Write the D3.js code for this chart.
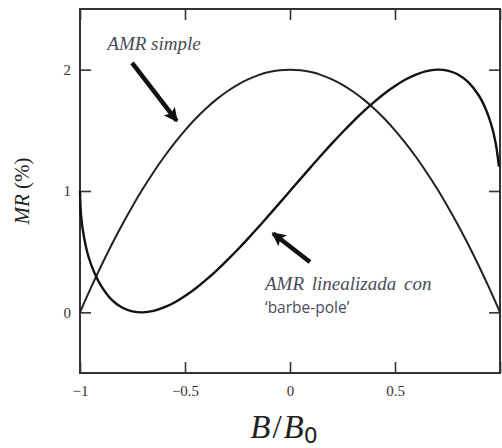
<!DOCTYPE html>
<html>
<head>
<meta charset="utf-8">
<style>
  body { margin: 0; background: #fff; }
  .tick text { font-family: "Liberation Serif", serif; font-size: 15px; fill: #333; }
  .note { font-family: "Liberation Serif", serif; font-style: italic; fill: #474c58; }
</style>
</head>
<body>
<svg width="502" height="448"></svg>
<script src="https://d3js.org/d3.v7.min.js"></script>
<script>
// B/B0 sample points and MR (%)
const simpleX = [-1, -0.95, -0.9, -0.85, -0.8, -0.75, -0.7, -0.65, -0.6, -0.55, -0.5, -0.45, -0.4, -0.35, -0.3, -0.25, -0.2, -0.15, -0.1, -0.05,
                 0, 0.05, 0.1, 0.15, 0.2, 0.25, 0.3, 0.35, 0.4, 0.45, 0.5, 0.55, 0.6, 0.65, 0.7, 0.75, 0.8, 0.85, 0.9, 0.95, 1];
const simpleMR = [0, 0.195, 0.38, 0.555, 0.72, 0.875, 1.02, 1.155, 1.28, 1.395, 1.5, 1.595, 1.68, 1.755, 1.82, 1.875, 1.92, 1.955, 1.98, 1.995,
                  2.0, 1.995, 1.98, 1.955, 1.92, 1.875, 1.82, 1.755, 1.68, 1.595, 1.5, 1.395, 1.28, 1.155, 1.02, 0.875, 0.72, 0.555, 0.38, 0.195, 0];

const barberX = [-1, -0.995, -0.98, -0.96, -0.93, -0.9, -0.85, -0.8, -0.75, -0.7, -0.65, -0.6, -0.55, -0.5, -0.45, -0.4, -0.35, -0.3, -0.25, -0.2, -0.15, -0.1, -0.05,
                 0, 0.05, 0.1, 0.15, 0.2, 0.25, 0.3, 0.35, 0.4, 0.45, 0.5, 0.55, 0.6, 0.65, 0.7, 0.75, 0.8, 0.85, 0.9, 0.93, 0.96, 0.98, 0.995];
const barberMR = [1, 0.8, 0.61, 0.46, 0.32, 0.22, 0.105, 0.04, 0.008, 0, 0.012, 0.04, 0.081, 0.134, 0.196, 0.267, 0.344, 0.428, 0.516, 0.608, 0.703, 0.801, 0.9,
                  1, 1.1, 1.199, 1.297, 1.392, 1.484, 1.572, 1.656, 1.733, 1.804, 1.866, 1.919, 1.96, 1.988, 2.0, 1.992, 1.96, 1.895, 1.785, 1.684, 1.538, 1.39, 1.2];

const xTicks = [-1, -0.5, 0, 0.5, 1];
const xTickLabels = ["\u22121", "\u22120.5", "0", "0.5", ""];   // the "1" is cut off in the picture
const yTicks = [0, 1, 2];
const yTickLabels = ["0", "1", "2"];

const svg = d3.select("svg");
const x = d3.scaleLinear().domain([-1, 1]).range([80, 500]);
const y = d3.scaleLinear().domain([-0.5, 2.5]).range([373, 9]);

// frame
svg.append("rect")
  .attr("x", x(-1)).attr("y", y(2.5))
  .attr("width", x(1) - x(-1)).attr("height", y(-0.5) - y(2.5))
  .style("fill", "none").style("stroke", "#333").style("stroke-width", 2);

// inward ticks on all four sides
svg.append("g").attr("transform", `translate(0,${y(-0.5)})`)
  .call(d3.axisBottom(x).tickValues(xTicks).tickSize(-11).tickPadding(12)
    .tickFormat((d, i) => xTickLabels[i]));
svg.append("g").attr("transform", `translate(0,${y(2.5)})`)
  .call(d3.axisTop(x).tickValues(xTicks).tickSize(-11).tickFormat(""));
svg.append("g").attr("transform", `translate(${x(-1)},0)`)
  .call(d3.axisLeft(y).tickValues(yTicks).tickSize(-11).tickPadding(9)
    .tickFormat((d, i) => yTickLabels[i]));
svg.append("g").attr("transform", `translate(${x(1)},0)`)
  .call(d3.axisRight(y).tickValues(yTicks).tickSize(-11).tickFormat(""));
svg.selectAll(".domain").remove();
svg.selectAll(".tick line").style("stroke", "#333").style("stroke-width", 1.6);

// curves
const line = d3.line().x(d => x(d[0])).y(d => y(d[1])).curve(d3.curveCatmullRom);
svg.append("path")
  .datum(d3.zip(simpleX, simpleMR))
  .attr("d", line)
  .style("fill", "none").style("stroke", "#222").style("stroke-width", 2);
svg.append("path")
  .datum(d3.zip(barberX, barberMR))
  .attr("d", line)
  .style("fill", "none").style("stroke", "#111").style("stroke-width", 2.4);

// arrows
svg.append("defs").append("marker")
  .attr("id", "head")
  .attr("markerUnits", "userSpaceOnUse")
  .attr("viewBox", "0 0 14 14")
  .attr("refX", 12).attr("refY", 7)
  .attr("markerWidth", 14).attr("markerHeight", 14)
  .attr("orient", "auto")
  .append("path").attr("d", "M0,0 L14,7 L0,14 L3,7 Z").style("fill", "#111");

const arrows = [
  { from: [-0.752, 2.055], to: [-0.54, 1.58] },
  { from: [0.095, 0.415], to: [-0.08, 0.65] }
];
svg.selectAll(".arrow").data(arrows).join("line")
  .attr("class", "arrow")
  .attr("x1", d => x(d.from[0])).attr("y1", d => y(d.from[1]))
  .attr("x2", d => x(d.to[0])).attr("y2", d => y(d.to[1]))
  .attr("marker-end", "url(#head)")
  .style("stroke", "#111").style("stroke-width", 4.5);

// annotations
svg.append("text").attr("class", "note")
  .attr("x", x(-0.87)).attr("y", y(2.165))
  .style("font-size", "19px")
  .text("AMR simple");
svg.append("text").attr("class", "note")
  .attr("x", x(-0.119)).attr("y", y(0.184))
  .style("font-size", "19px").style("word-spacing", "3px")
  .text("AMR linealizada con");
svg.append("text")
  .attr("x", x(-0.119)).attr("y", y(-0.006))
  .style("font-family", "'Open Sans', sans-serif").style("font-size", "15.5px").style("fill", "#474c58")
  .text("\u2018barbe-pole\u2019");

// axis titles
const xt = svg.append("text")
  .attr("x", 284).attr("y", 438)
  .attr("text-anchor", "middle")
  .style("font-family", "'Liberation Serif', serif").style("font-size", "33px").style("fill", "#222");
xt.append("tspan").style("font-style", "italic").text("B");
xt.append("tspan").attr("dx", 2).text("/");
xt.append("tspan").attr("dx", 2).style("font-style", "italic").text("B");
xt.append("tspan").attr("dy", 5).style("font-size", "22px").style("font-family", "'DejaVu Sans', sans-serif").text("0");

svg.append("text")
  .attr("transform", "translate(29,191) rotate(-90)")
  .attr("text-anchor", "middle")
  .style("font-family", "'Liberation Serif', serif").style("font-size", "21px").style("fill", "#222")
  .html('<tspan font-style="italic">MR</tspan> (%)');
</script>
</body>
</html>
